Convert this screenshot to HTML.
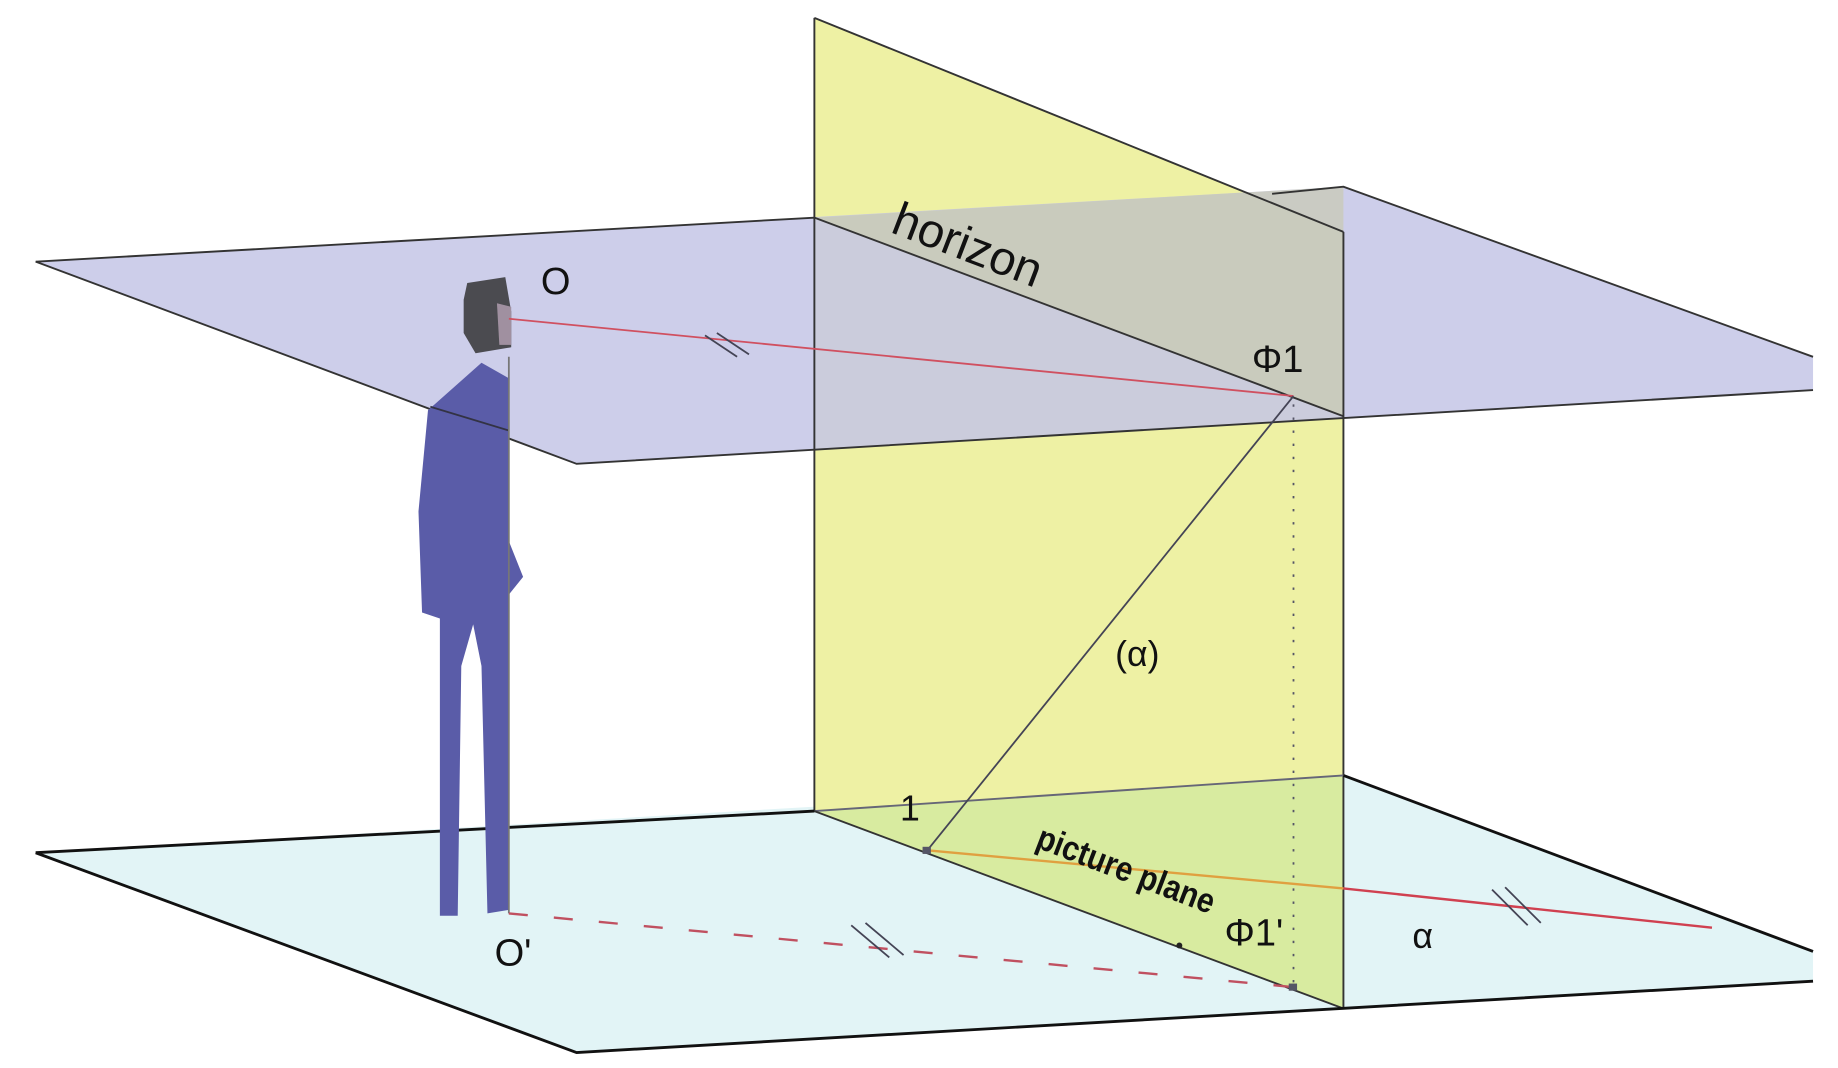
<!DOCTYPE html>
<html><head><meta charset="utf-8"><style>
html,body{margin:0;padding:0;background:#fff;}
svg{display:block;}
text{font-family:"Liberation Sans",sans-serif;fill:#111;}
</style></head><body>
<svg width="1838" height="1068" viewBox="0 0 1546 898" preserveAspectRatio="none" xmlns="http://www.w3.org/2000/svg">
<polygon points="30,717 1130,652 1525,800 1525,825 485,885" fill="#e2f4f6"/>
<polygon points="685,15 1130,195 1130,848 685,682" fill="#eef1a4"/>
<polygon points="685,682 1130,652 1130,848" fill="#d8eba0"/>
<polygon points="30,220 1130,157 1525,300 1525,328 485,390" fill="#c4c6e6" fill-opacity="0.85"/>
<polygon points="685,183 1130,157 1130,350" fill="#c8caa8" fill-opacity="0.6"/>
<g stroke="#333" stroke-width="1.6" fill="none">
<polyline points="30,220 685,183"/>
<polyline points="1070,163 1130,157 1525,300"/>
<polyline points="30,220 485,390 1525,328"/>
<line x1="685" y1="183" x2="1130" y2="350"/>
<line x1="685" y1="15" x2="1130" y2="195"/>
<line x1="685" y1="15" x2="685" y2="682"/>
<line x1="1130" y1="195" x2="1130" y2="848"/>
<line x1="685" y1="682" x2="1130" y2="652" stroke="#667"/>
<line x1="685" y1="682" x2="1130" y2="848"/>
</g>
<g stroke="#111" stroke-width="2.4" fill="none">
<polyline points="30,717 685,682"/>
<polyline points="1130,652 1525,800"/>
<polyline points="30,717 485,885 1525,825"/>
</g>
<polygon points="405,305 428,318 428,765 410,768 405,560 398,525 388,560 385,770 370,770 370,520 355,515 352,430 360,345" fill="#5a5ca8"/>
<polygon points="428,455 440,485 428,500" fill="#5a5ca8"/>
<line x1="362" y1="342" x2="428" y2="362" stroke="#334" stroke-width="1.5"/>
<line x1="428" y1="300" x2="428" y2="768" stroke="#777" stroke-width="1.5"/>
<polygon points="393,238 425,233 430,262 430,292 400,297 390,280 390,252" fill="#4b4b50"/>
<polygon points="418,255 430,258 430,290 420,290" fill="#a090a0"/>
<line x1="428" y1="268" x2="1088" y2="333" stroke="#d05060" stroke-width="1.5"/>
<line x1="780" y1="715" x2="1088" y2="333" stroke="#445" stroke-width="1.5"/>
<line x1="1088" y1="340" x2="1088" y2="830" stroke="#556" stroke-width="1.5" stroke-dasharray="2,9"/>
<line x1="428" y1="768" x2="1088" y2="830" stroke="#c05060" stroke-width="2" stroke-dasharray="16,22"/>
<line x1="780" y1="715" x2="1130" y2="747" stroke="#e0a040" stroke-width="2"/>
<line x1="1130" y1="747" x2="1440" y2="780" stroke="#d04050" stroke-width="2"/>
<g stroke="#445" stroke-width="1.5">
<line x1="593" y1="282" x2="620" y2="300"/><line x1="603" y1="280" x2="630" y2="298"/>
<line x1="716" y1="778" x2="748" y2="805"/><line x1="728" y1="776" x2="760" y2="803"/>
<line x1="1255" y1="748" x2="1285" y2="778"/><line x1="1266" y1="746" x2="1296" y2="776"/>
</g>
<rect x="776" y="712" width="7" height="6" fill="#556"/>
<rect x="1084" y="827" width="7" height="6" fill="#556"/>
<circle cx="992" cy="795" r="2.5" fill="#222"/>
<text x="455" y="247" font-size="32">O</text>
<text x="748" y="195" font-size="40" transform="rotate(21 748 195)">horizon</text>
<text x="1053" y="313" font-size="32">Φ1</text>
<text x="938" y="560" font-size="30">(α)</text>
<text x="757" y="690" font-size="30">1</text>
<text x="870" y="712" font-size="29" font-weight="bold" textLength="158" lengthAdjust="spacingAndGlyphs" transform="rotate(21 870 712)">picture plane</text>
<text x="1030" y="795" font-size="32">Φ1'</text>
<text x="1188" y="797" font-size="30">α</text>
<text x="416" y="812" font-size="32">O'</text>
</svg>
</body></html>
